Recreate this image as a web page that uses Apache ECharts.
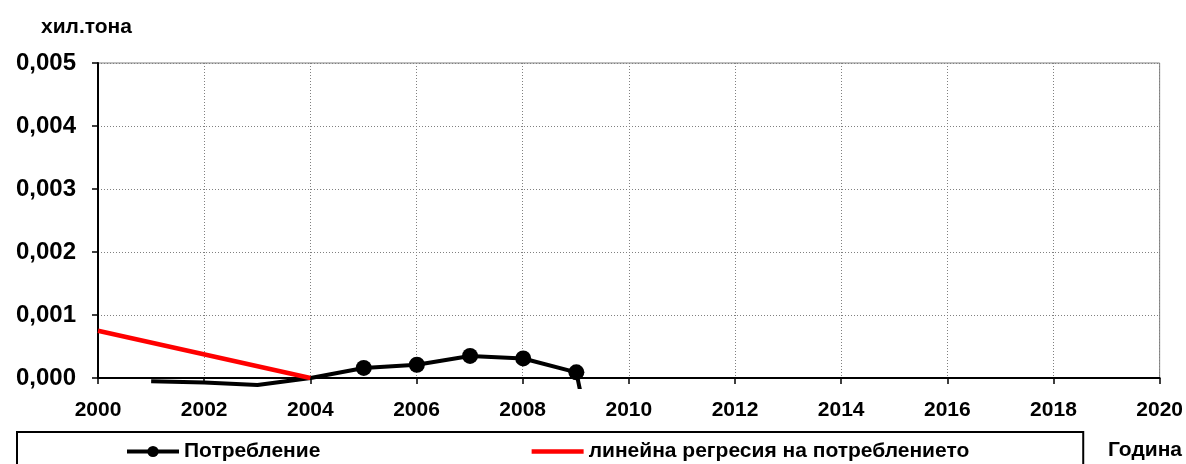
<!DOCTYPE html>
<html>
<head>
<meta charset="utf-8">
<script src="https://cdn.jsdelivr.net/npm/echarts@6/dist/echarts.min.js"></script>
<style>
  html, body { margin: 0; padding: 0; background: #fff; }
  #chart { width: 1186px; height: 464px; }
</style>
</head>
<body>
<div id="chart"></div>
<script>
// Consumption by year (thousand tonnes)
const years = [2001, 2002, 2003, 2004, 2005, 2006, 2007, 2008, 2009, 2010];
const consumption = [-0.00005, -0.00007, -0.00011, 0.0, 0.00016, 0.00021, 0.00035, 0.00031, 0.00009, -0.004];

// Linear regression of consumption
const regYears = [2000, 2004];
const regValues = [0.00075, 0.0];

// Axis settings
const xMin = 2000, xMax = 2020, xStep = 2;
const yMin = 0, yMax = 0.005, yStep = 0.001;

const FONT = 'Liberation Sans, Arial, sans-serif';
const bold = size => ({ fontFamily: FONT, fontWeight: 'bold', fontSize: size, color: '#000' });

const chart = echarts.init(document.getElementById('chart'), null, { renderer: 'canvas' });

const pair = (xs, ys) => xs.map((x, i) => [x, ys[i]]);

chart.setOption({
  animation: false,
  backgroundColor: '#fff',
  textStyle: { fontFamily: FONT },
  title: [
    { text: 'хил.тона', left: 36, top: 12, textStyle: bold(21) },
    { text: 'Година', left: 1103, top: 435, textStyle: bold(21) }
  ],
  legend: {
    left: 17, top: 432,
    orient: 'horizontal',
    padding: [9, 114, 30, 108],
    itemGap: 209,
    itemWidth: 52, itemHeight: 14,
    borderColor: '#000', borderWidth: 2,
    textStyle: bold(21),
    lineStyle: { width: 'inherit' },
    data: [
      { name: 'Потребление' },
      { name: 'линейна регресия на потреблението',
        itemStyle: { opacity: 0, color: 'rgba(0,0,0,0)', borderWidth: 0 } }
    ]
  },
  grid: [
    { left: 98, right: 25, top: 63, bottom: 86, show: true,
      borderColor: '#808080', borderWidth: 1, containLabel: false },
    { left: 98, right: 25, top: 63, bottom: 77, show: false, containLabel: false }
  ],
  xAxis: [
    { type: 'value', gridIndex: 0, min: xMin, max: xMax, interval: xStep,
      axisLine: { show: true, onZero: false, lineStyle: { color: '#000', width: 2 } },
      axisTick: { show: true, inside: false, length: 6, lineStyle: { color: '#000', width: 1.5 } },
      axisLabel: Object.assign({ margin: 22, formatter: v => String(v) }, bold(21)),
      splitLine: { show: true, lineStyle: { color: '#808080', type: [1, 2], width: 1 } } },
    { type: 'value', gridIndex: 1, min: xMin, max: xMax, show: false,
      splitLine: { show: false } }
  ],
  yAxis: [
    { type: 'value', gridIndex: 0, min: yMin, max: yMax, interval: yStep,
      axisLine: { show: true, lineStyle: { color: '#000', width: 2 } },
      axisTick: { show: true, inside: false, length: 6, lineStyle: { color: '#000', width: 1.5 } },
      axisLabel: Object.assign({ margin: 22,
        formatter: v => v.toFixed(3).replace('.', ',') }, bold(24)),
      splitLine: { show: true, lineStyle: { color: '#808080', type: [1, 2], width: 1 } } },
    { type: 'value', gridIndex: 1, min: -0.000143, max: yMax, show: false,
      splitLine: { show: false } }
  ],
  series: [
    {
      name: 'Потребление',
      type: 'line',
      xAxisIndex: 1, yAxisIndex: 1,
      data: pair(years, consumption),
      clip: true,
      symbol: 'circle',
      symbolSize: v => (v[1] <= 0 ? 0 : 16),
      showSymbol: true,
      lineStyle: { color: '#000', width: 4 },
      itemStyle: { color: '#000' },
      z: 3
    },
    {
      name: 'линейна регресия на потреблението',
      type: 'line',
      xAxisIndex: 0, yAxisIndex: 0,
      data: pair(regYears, regValues),
      clip: true,
      symbol: 'none',
      lineStyle: { color: '#ff0000', width: 4.5 },
      itemStyle: { color: '#ff0000' },
      z: 4
    }
  ]
});
</script>
</body>
</html>
